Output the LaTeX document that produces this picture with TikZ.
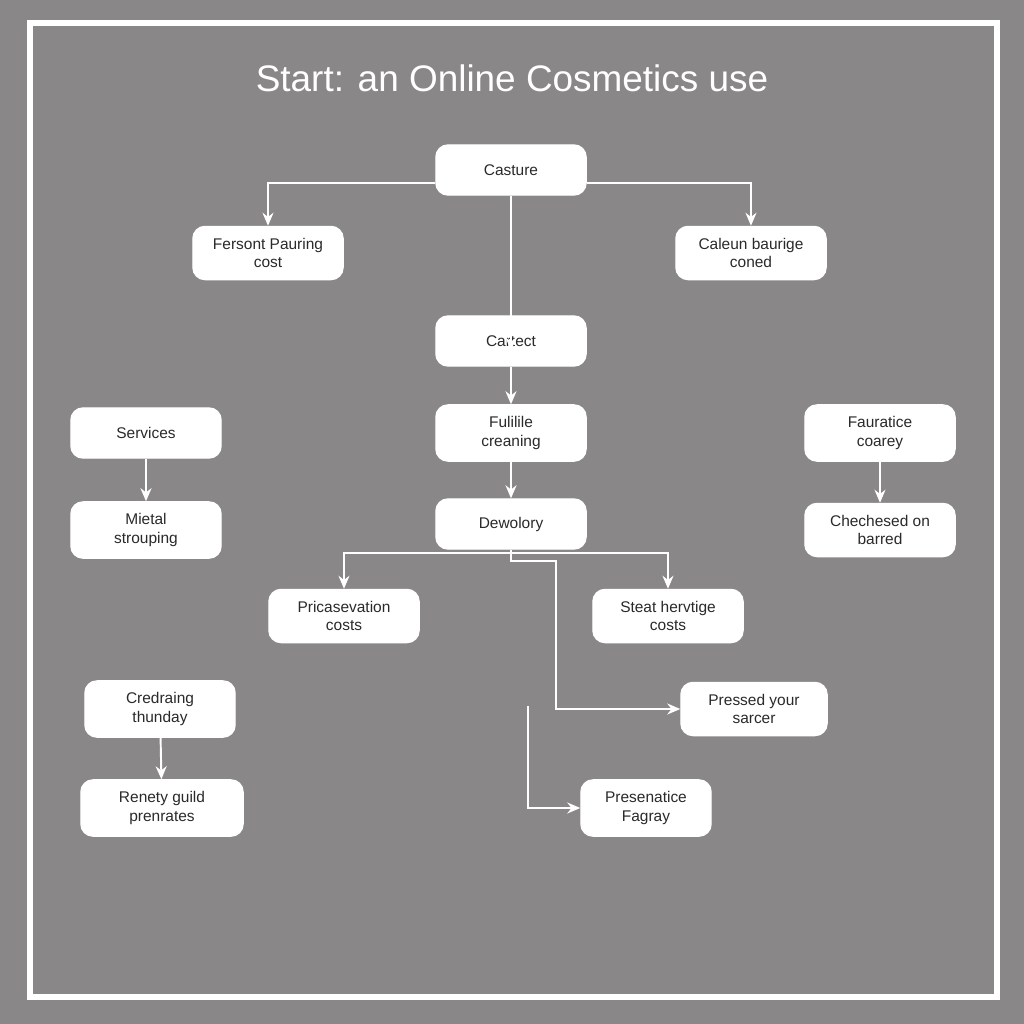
\documentclass[tikz,border=0pt]{standalone}
\usepackage{fontspec}
\setmainfont{Liberation Sans}
\usetikzlibrary{arrows.meta}
\definecolor{bggray}{HTML}{8A8789}
\definecolor{txtgray}{HTML}{2A2A2A}

\begin{document}
\begin{tikzpicture}[x=0.01cm, y=-0.01cm,
  box/.style={rectangle, rounded corners=1.2mm, fill=white, draw=white, minimum width=1.5cm, minimum height=0.5cm, align=center, text=txtgray, font=\fontsize{4.4}{5.2}\selectfont},
  link/.style={-{Stealth[length=1.3mm,width=1.1mm]}, white, line width=0.55pt}]
			% Background and frame
			\fill[bggray] (0,0) rectangle (1024,1024);
			\useasboundingbox (0,0) rectangle (1024,1024);
			\draw[white, line width=1.6pt] (30,23) rectangle (997,997);
			\node[white, font=\fontsize{10.5}{12}\selectfont] (title) at (512,78) {Start: an Online Cosmetics use};
			
			% Nodes
			\node[box] (casture) at (511,170) {Casture};
			\node[box] (fersont) at (268,253) {Fersont Pauring\\cost};
			\node[box] (caleun) at (751,253) {Caleun baurige\\coned};
			\node[box] (cartect) at (511,341) {Cartect};
			\node[box] (services) at (146,433) {Services};
			\node[box] (fulilile) at (511,433) {Fulilile\\creaning};
			\node[box] (fauratice) at (880,433) {Fauratice\\coarey};
			\node[box] (mietal) at (146,530) {Mietal\\strouping};
			\node[box] (dewolory) at (511,524) {Dewolory};
			\node[box] (checheed) at (880,530) {Chechesed on\\barred};
			\node[box] (pricase) at (344,616) {Pricasevation\\costs};
			\node[box] (steat) at (668,616) {Steat hervtige\\costs};
			\node[box, minimum width=1.46cm] (pressed) at (754,709) {Pressed your\\sarcer};
			\node[box] (credraing) at (160,709) {Credraing\\thunday};
			\node[box, minimum width=1.62cm] (renety) at (162,808) {Renety guild\\prenrates};
			\node[box, minimum width=1.3cm] (presen) at (646,808) {Presenatice\\Fagray};
			\coordinate (free) at (528,706);
			
			% Edges
			\draw[link] (casture.west |- 0,183) -| (fersont.north);
			\draw[link] (casture.east |- 0,183) -| (caleun.north);
			\draw[link] (casture) -- ([yshift=-10]cartect.north);
			\draw[link] (cartect) -- (fulilile);
			\draw[link] (fulilile) -- (dewolory);
			\draw[link] (services) -- (mietal);
			\draw[link] (fauratice) -- (checheed);
			\draw[link] (credraing) -- (renety);
			\draw[link] (dewolory.south) -- (511,553) -| (pricase.north);
			\draw[link] (511,553) -| (steat.north);
			\draw[link] (dewolory.south) -- (511,561) -- (556,561) |- (pressed.west);
			\draw[link] (free) |- (presen.west);
		\end{tikzpicture}
\end{document}
